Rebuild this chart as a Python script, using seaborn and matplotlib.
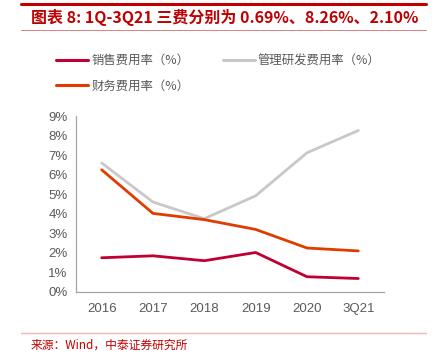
import matplotlib
matplotlib.use("Agg")
import matplotlib.pyplot as plt
import seaborn as sns
import pandas as pd
from matplotlib.lines import Line2D
from matplotlib.ticker import FixedLocator, PercentFormatter

categories = ["2016", "2017", "2018", "2019", "2020", "3Q21"]
sales_rate = [1.75, 1.85, 1.60, 2.02, 0.78, 0.69]
admin_rd_rate = [6.60, 4.60, 3.75, 4.92, 7.12, 8.26]
finance_rate = [6.25, 4.02, 3.70, 3.20, 2.25, 2.10]
series_names = ["销售费用率（%）", "管理研发费用率（%）", "财务费用率（%）"]
colors = ["#C00032", "#C8C8C8", "#E03C00"]

sns.set_theme(style="white")
plt.rcParams['font.family'] = ['Noto Sans CJK SC', 'DejaVu Sans']

rows = []
for name, vals in zip(series_names, [sales_rate, admin_rd_rate, finance_rate]):
    for i, (c, v) in enumerate(zip(categories, vals)):
        rows.append({"x": i, "cat": c, "value": v, "series": name})
df = pd.DataFrame(rows)

fig = plt.figure(figsize=(4.34, 3.61), dpi=100)
ax = fig.add_axes([76/434, 1-292/361, (384-76)/434, (292-116)/361])

sns.lineplot(data=df, x="x", y="value", hue="series", hue_order=series_names,
             palette=colors, linewidth=2.0, ax=ax, legend=False, sort=False)

ax.set_xlim(-0.5, len(categories) - 0.5)
ax.set_ylim(0, 9)
ax.yaxis.set_major_locator(FixedLocator(range(0, 10)))
ax.yaxis.set_major_formatter(PercentFormatter(decimals=0))
ax.set_xticks(range(len(categories)))
ax.set_xticklabels(categories)
ax.set_xticks([i - 0.5 for i in range(len(categories) + 1)], minor=True)
ax.tick_params(axis="x", which="major", length=0, pad=8, labelsize=9.5, labelcolor="#595959")
ax.tick_params(axis="x", which="minor", length=4, width=0.8, color="#A6A6A6", direction="out")
ax.tick_params(axis="y", which="major", length=4, width=0.8, color="#A6A6A6", direction="out",
               labelsize=9.5, labelcolor="#595959", pad=2)
for lab in ax.get_xticklabels() + ax.get_yticklabels():
    lab.set_fontfamily(["Liberation Sans", "DejaVu Sans"])
ax.set_xlabel("")
ax.set_ylabel("")
for s in ["top", "right"]:
    ax.spines[s].set_visible(False)
for s in ["left", "bottom"]:
    ax.spines[s].set_color("#A6A6A6")
    ax.spines[s].set_linewidth(0.9)

# legend
handles = [Line2D([], [], color=c, linewidth=2.2) for c in colors]
order = [0, 2, 1]
leg = fig.legend([handles[i] for i in order], [series_names[i] for i in order],
                 loc="upper left", bbox_to_anchor=(45/434, 1-43/361), ncol=2, frameon=False,
                 handlelength=2.6, handletextpad=0.25, columnspacing=2.7, labelspacing=1.0,
                 prop={"family": ["Noto Sans CJK SC", "DejaVu Sans"], "size": 8.9})
for t in leg.get_texts():
    t.set_color("#595959")

# title and decorations
fig.add_artist(Line2D([21/434, 426/434], [1-4/361, 1-4/361], color="#C00000", linewidth=2.2))
fig.add_artist(Line2D([21/434, 426/434], [1-30/361, 1-30/361], color="#E08080", linewidth=0.7))
fig.text(31/434, 1-17/361, "图表 8: 1Q-3Q21 三费分别为 0.69%、8.26%、2.10%", color="#C00000",
         fontsize=11.5, fontweight="bold", style="italic", va="center", ha="left",
         family=["Noto Sans CJK SC", "DejaVu Sans"])
fig.add_artist(Line2D([21/434, 426/434], [1-333/361, 1-333/361], color="#F0B4B8", linewidth=1.0))
fig.text(31/434, 1-345/361, "来源：Wind，中泰证券研究所", color="#C00000", fontsize=8.5,
         va="center", ha="left", family=["Noto Sans CJK SC", "DejaVu Sans"])

fig.savefig("out.png", dpi=100)
